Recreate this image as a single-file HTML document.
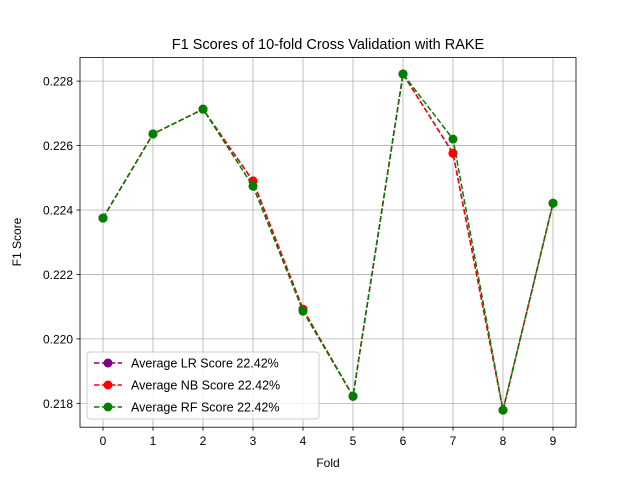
<!DOCTYPE html>
<html><head><meta charset="utf-8"><style>
body{margin:0;background:#fff}
svg{font-family:"Liberation Sans","DejaVu Sans",sans-serif}
</style></head><body>
<svg id="chart" width="640" height="480" xmlns="http://www.w3.org/2000/svg">
<rect width="640" height="480" fill="#fff"/>
<text x="328" y="49" text-anchor="middle" font-size="14.5">F1 Scores of 10-fold Cross Validation with RAKE</text>
<g id="grid"></g>
<g id="series"></g>
<rect x="80" y="57.6" width="496" height="369.6" fill="none" stroke="#000" stroke-width="0.8"/>
<g id="ticks"></g>
<text x="328" y="467" text-anchor="middle" font-size="12">Fold</text>
<text transform="translate(21,242) rotate(-90)" text-anchor="middle" font-size="12">F1 Score</text>
<g>
<rect x="87" y="352" width="232" height="67" rx="3" fill="#fff" fill-opacity="0.8" stroke="#ccc"/>
<g><line x1="94" y1="363" x2="122" y2="363" stroke="purple" stroke-width="1.5" stroke-dasharray="5.5,2.4"/><circle cx="108" cy="363" r="4.5" fill="purple"/><text x="131" y="367.5" font-size="12.5">Average LR Score 22.42%</text></g>
<g><line x1="94" y1="385" x2="122" y2="385" stroke="red" stroke-width="1.5" stroke-dasharray="5.5,2.4"/><circle cx="108" cy="385" r="4.5" fill="red"/><text x="131" y="389.5" font-size="12.5">Average NB Score 22.42%</text></g>
<g><line x1="94" y1="407" x2="122" y2="407" stroke="green" stroke-width="1.5" stroke-dasharray="5.5,2.4"/><circle cx="108" cy="407" r="4.5" fill="green"/><text x="131" y="411.5" font-size="12.5">Average RF Score 22.42%</text></g>
</g>
</svg>
<script>
const folds=[0,1,2,3,4,5,6,7,8,9];
const lrScores=[0.22375,0.22636,0.22713,0.22490,0.22092,0.21822,0.22822,0.22576,0.21779,0.22421];
const nbScores=[0.22375,0.22636,0.22713,0.22490,0.22092,0.21822,0.22822,0.22576,0.21779,0.22421];
const rfScores=[0.22375,0.22636,0.22713,0.22474,0.22086,0.21822,0.22822,0.22620,0.21779,0.22421];
const yTicks=[0.218,0.220,0.222,0.224,0.226,0.228];
const NS='http://www.w3.org/2000/svg';
const x=v=>103+(v-0)*(450/9);
const y=v=>427.2-(v-0.21726)/(0.22873-0.21726)*369.6;
function mk(t,a,p){const e=document.createElementNS(NS,t);for(const k in a)e.setAttribute(k,a[k]);p.appendChild(e);return e;}
const grid=document.getElementById('grid'),ticks=document.getElementById('ticks'),ser=document.getElementById('series');
folds.forEach(f=>{
 const g=mk('line',{x1:x(f),x2:x(f),y1:57.6,y2:427.2,stroke:'#b0b0b0','stroke-width':0.8},grid);
 
 
 mk('line',{x1:x(f),x2:x(f),y1:427.2,y2:430.7,stroke:'#000','stroke-width':0.8},ticks);
 const t=mk('text',{x:x(f),y:445,'text-anchor':'middle','font-size':12},ticks);t.textContent=f;
 
 
});
yTicks.forEach(v=>{
 const g=mk('line',{x1:80,x2:576,y1:y(v),y2:y(v),stroke:'#b0b0b0','stroke-width':0.8},grid);
 
 
 mk('line',{x1:76.5,x2:80,y1:y(v),y2:y(v),stroke:'#000','stroke-width':0.8},ticks);
 const t=mk('text',{x:73,y:y(v)+4.5,'text-anchor':'end','font-size':12},ticks);t.textContent=v.toFixed(3);
 
 
});
[[lrScores,'purple','lr'],[nbScores,'red','nb'],[rfScores,'green','rf']].forEach(([d,c,n])=>{
 const g=mk('g',{},ser);
 
 
 mk('polyline',{points:d.map((v,i)=>x(folds[i])+','+y(v)).join(' '),fill:'none',stroke:c,'stroke-width':1.5,'stroke-dasharray':'5.5,2.4'},g);
 d.forEach((v,i)=>{const p=mk('circle',{cx:x(folds[i]),cy:y(v),r:4.5,fill:c},g);
  
  });
});
</script>
</body></html>
